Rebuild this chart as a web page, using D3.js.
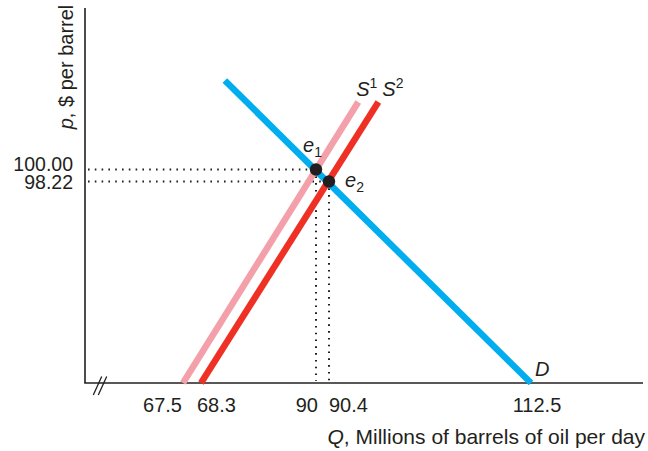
<!DOCTYPE html>
<html><head><meta charset="utf-8">
<script src="https://cdn.jsdelivr.net/npm/d3@7"></script>
<style>
html,body{margin:0;padding:0;background:#fff;}
text{font-family:"Liberation Sans",Arial,Helvetica,sans-serif;fill:#231f20;}
</style></head>
<body><svg id="c" width="648" height="451"></svg>
<script>
// ---- data ----
const xTicks = [67.5, 68.3, 90, 90.4, 112.5];
const xTickLabels = ["67.5", "68.3", "90", "90.4", "112.5"];
const yTicks = [98.22, 100];
const yTickLabels = ["98.22", "100.00"];
const demandD = [{q: 72.8, p: 113.2}, {q: 112.5, p: 0}];
const supplyS1 = [{q: 67.5, p: 0}, {q: 93.6, p: 110}];
const supplyS2 = [{q: 68.3, p: 0}, {q: 95.8, p: 110}];
const equilibria = [{name: "e", sub: "1", q: 90, p: 100}, {name: "e", sub: "2", q: 90.4, p: 98.22}];

const svg = d3.select("#c");
const ink = "#231f20";

// Schematic (not to scale) axes: piecewise linear scales through labelled values
const x = d3.scaleLinear().domain([67.5, 68.3, 90, 90.4, 112.5]).range([183, 201, 316, 329, 531]);
const y = d3.scaleLinear().domain([0, 98.22, 100]).range([383, 181.5, 169.5]);
const x0 = 85, y0 = 383;

// axes
svg.append("line").attr("x1", x0).attr("y1", 8).attr("x2", x0).attr("y2", y0)
  .attr("stroke", ink).attr("stroke-width", 1.6);
svg.append("line").attr("x1", x0 - 0.8).attr("y1", y0).attr("x2", 643).attr("y2", y0)
  .attr("stroke", ink).attr("stroke-width", 1.6);
// axis break
[0, 5].forEach(o => {
  svg.append("line").attr("x1", 93.3 + o).attr("y1", 395).attr("x2", 101.7 + o).attr("y2", 376.5)
    .attr("stroke", ink).attr("stroke-width", 1.3);
});

// dotted guides
equilibria.forEach(e => {
  svg.append("line").attr("x1", x0 + 3).attr("y1", y(e.p)).attr("x2", x(e.q)).attr("y2", y(e.p))
    .attr("stroke", ink).attr("stroke-width", 2).attr("stroke-dasharray", "1.6,5.2").attr("stroke-linecap", "butt");
  svg.append("line").attr("x1", x(e.q)).attr("y1", y(e.p)).attr("x2", x(e.q)).attr("y2", y0 - 2)
    .attr("stroke", ink).attr("stroke-width", 2).attr("stroke-dasharray", "1.6,5.2");
});

const line = d3.line().x(d => x(d.q)).y(d => y(d.p));
svg.append("path").datum(supplyS1).attr("d", line).attr("fill", "none")
  .attr("stroke", "#f4a0aa").attr("stroke-width", 6.5);
svg.append("path").datum(supplyS2).attr("d", line).attr("fill", "none")
  .attr("stroke", "#ee3124").attr("stroke-width", 6.5);
svg.append("path").datum(demandD).attr("d", line).attr("fill", "none")
  .attr("stroke", "#00aeef").attr("stroke-width", 6.5);

// equilibrium points
svg.selectAll("circle.eq").data(equilibria).enter().append("circle")
  .attr("cx", d => x(d.q)).attr("cy", d => y(d.p)).attr("r", 6.2).attr("fill", ink);

// tick labels x
const xAnchor = ["end", "start", "end", "start", "middle"];
const xOff = [-1, -4, 2, 0, 6];
xTicks.forEach((t, i) => {
  svg.append("text").attr("x", x(t) + xOff[i]).attr("y", 412).attr("text-anchor", xAnchor[i])
    .attr("font-size", 20).text(xTickLabels[i]);
});
// tick labels y
const yBase = [189, 171];
yTicks.forEach((t, i) => {
  svg.append("text").attr("x", 73).attr("y", yBase[i]).attr("text-anchor", "end")
    .attr("font-size", 19.5).text(yTickLabels[i]);
});

// axis titles
const xt = svg.append("text").attr("x", 645).attr("y", 444).attr("text-anchor", "end").attr("font-size", 21);
xt.append("tspan").attr("font-style", "italic").text("Q");
xt.append("tspan").text(", Millions of barrels of oil per day");
const yt = svg.append("text").attr("transform", "translate(73,67) rotate(-90)").attr("text-anchor", "middle").attr("font-size", 20);
yt.append("tspan").attr("font-style", "italic").text("p");
yt.append("tspan").text(", $ per barrel");

// curve labels
function lab(px, py, main, small, smallDy) {
  const t = svg.append("text").attr("x", px).attr("y", py).attr("font-size", 20);
  t.append("tspan").attr("font-style", "italic").text(main);
  t.append("tspan").attr("font-size", 14).attr("dy", smallDy).text(small);
}
lab(x(equilibria[0].q) - 13, y(equilibria[0].p) - 18, "e", "1", 5);
lab(x(equilibria[1].q) + 16, y(equilibria[1].p) + 5, "e", "2", 5);
lab(x(supplyS1[1].q) - 2, y(supplyS1[1].p) - 6, "S", "1", -8);
lab(x(supplyS2[1].q) + 4, y(supplyS2[1].p) - 6, "S", "2", -8);
svg.append("text").attr("x", x(demandD[1].q) + 4).attr("y", 376).attr("font-size", 20)
  .attr("font-style", "italic").text("D");
</script></body></html>
